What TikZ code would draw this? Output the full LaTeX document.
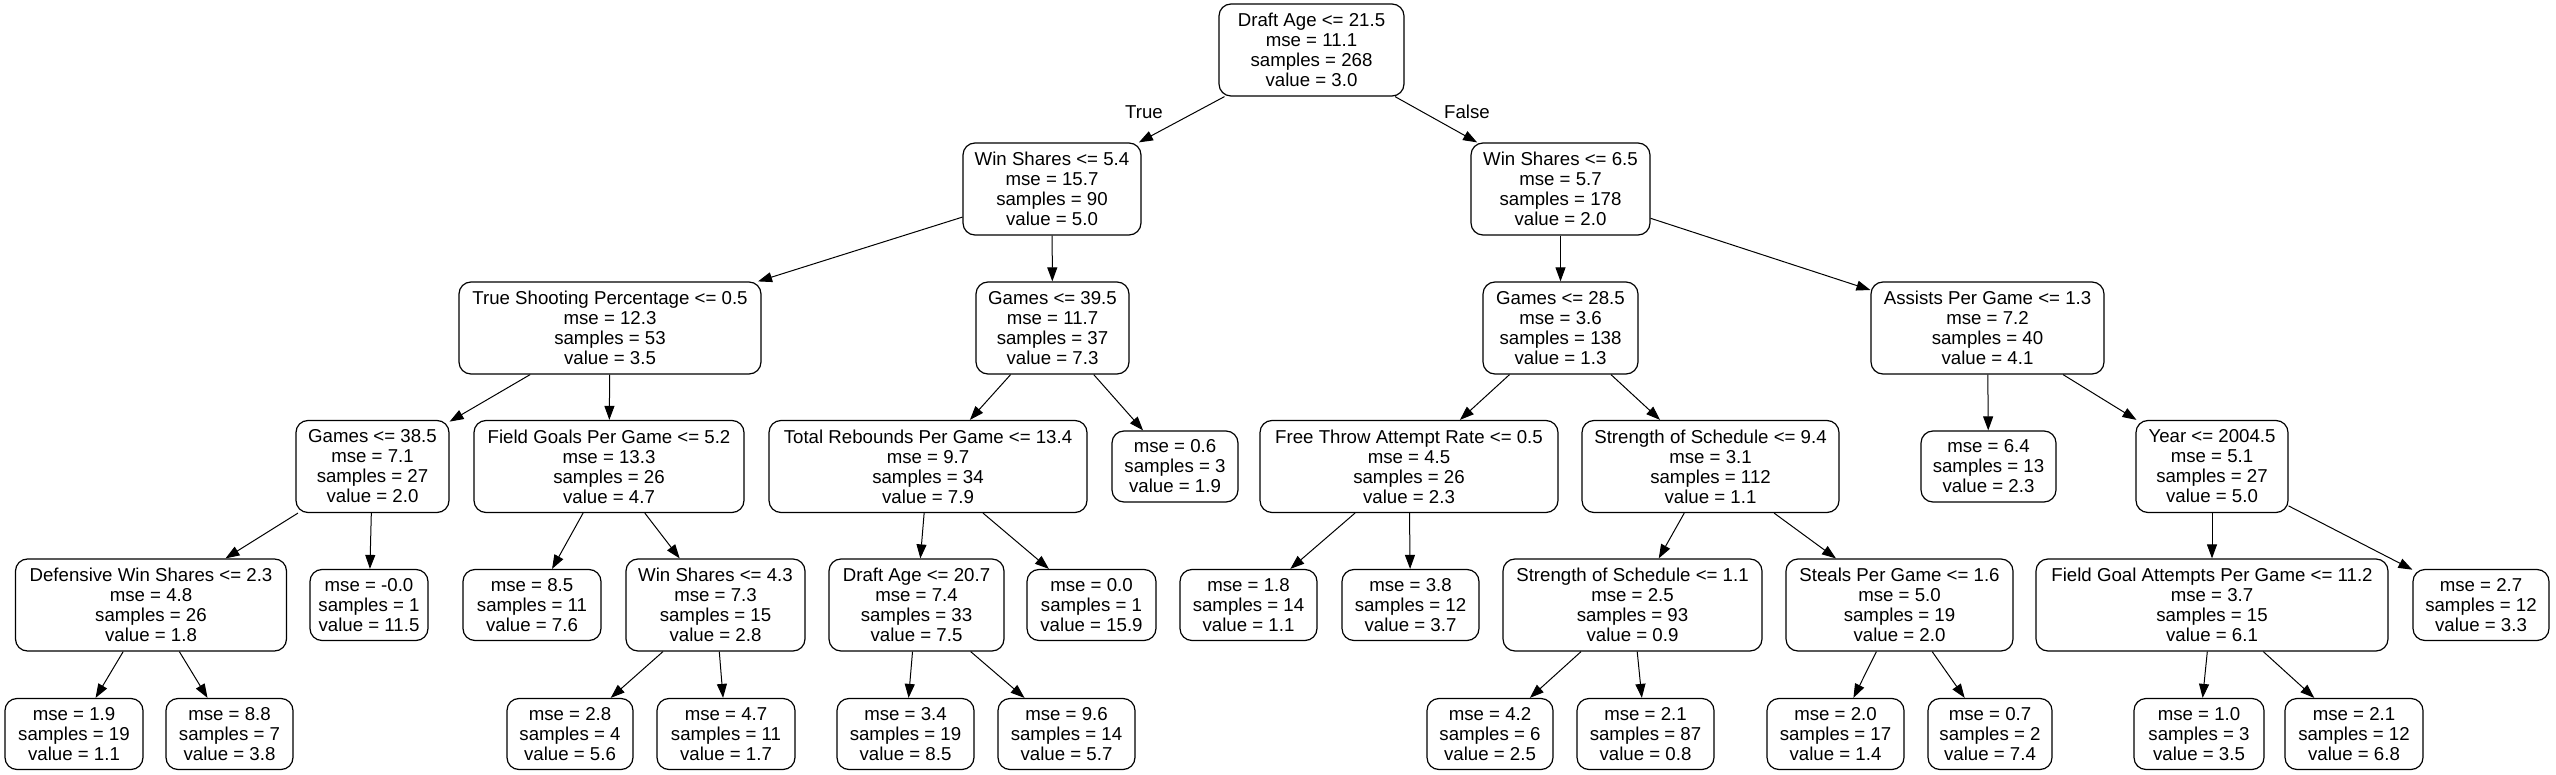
\documentclass[tikz,border=0pt]{standalone}
\usepackage{fontspec}
\setmainfont{Liberation Sans}
\usetikzlibrary{arrows.meta}
\begin{document}
\begin{tikzpicture}[x=0.5pt,y=-0.5pt,
  box/.style={draw=black, line width=0.6pt, rounded corners=6pt, align=center, inner sep=0pt,
    font=\fontsize{9.33}{10}\selectfont, fill=white},
  inn/.style={box, minimum height=46pt},
  leaf/.style={box, minimum height=35.5pt},
  edge/.style={draw=black, line width=0.5pt, -{Triangle[length=7pt,width=5pt]}},
  lbl/.style={font=\fontsize{9.33}{10}\selectfont, inner sep=0pt}]
\useasboundingbox (0,0) rectangle (2556,775);
% level 0
\node[inn, minimum width=92.5pt] (n0) at (1311.5,50) {Draft Age <= 21.5\\mse = 11.1\\samples = 268\\value = 3.0};
% level 1
\node[inn, minimum width=89pt] (n1) at (1052,189) {Win Shares <= 5.4\\mse = 15.7\\samples = 90\\value = 5.0};
\node[inn, minimum width=89.5pt] (n2) at (1560.5,189) {Win Shares <= 6.5\\mse = 5.7\\samples = 178\\value = 2.0};
% level 2
\node[inn, minimum width=151pt] (n3) at (610,328) {True Shooting Percentage <= 0.5\\mse = 12.3\\samples = 53\\value = 3.5};
\node[inn, minimum width=76.5pt] (n4) at (1052.5,328) {Games <= 39.5\\mse = 11.7\\samples = 37\\value = 7.3};
\node[inn, minimum width=77.5pt] (n5) at (1560.5,328) {Games <= 28.5\\mse = 3.6\\samples = 138\\value = 1.3};
\node[inn, minimum width=116.5pt] (n6) at (1987.5,328) {Assists Per Game <= 1.3\\mse = 7.2\\samples = 40\\value = 4.1};
% level 3
\node[inn, minimum width=76.5pt] (n7) at (372.5,466.5) {Games <= 38.5\\mse = 7.1\\samples = 27\\value = 2.0};
\node[inn, minimum width=135pt] (n8) at (609,466.5) {Field Goals Per Game <= 5.2\\mse = 13.3\\samples = 26\\value = 4.7};
\node[inn, minimum width=159pt] (n9) at (928,466.5) {Total Rebounds Per Game <= 13.4\\mse = 9.7\\samples = 34\\value = 7.9};
\node[leaf, minimum width=63pt] (n10) at (1175,466.5) {mse = 0.6\\samples = 3\\value = 1.9};
\node[inn, minimum width=149pt] (n11) at (1409,466.5) {Free Throw Attempt Rate <= 0.5\\mse = 4.5\\samples = 26\\value = 2.3};
\node[inn, minimum width=128.5pt] (n12) at (1710.5,466.5) {Strength of Schedule <= 9.4\\mse = 3.1\\samples = 112\\value = 1.1};
\node[leaf, minimum width=67.5pt] (n13) at (1988.5,466.5) {mse = 6.4\\samples = 13\\value = 2.3};
\node[inn, minimum width=76pt] (n14) at (2212,466.5) {Year <= 2004.5\\mse = 5.1\\samples = 27\\value = 5.0};
% level 4
\node[inn, minimum width=135.5pt] (n15) at (151,605) {Defensive Win Shares <= 2.3\\mse = 4.8\\samples = 26\\value = 1.8};
\node[leaf, minimum width=59pt] (n16) at (369,605) {mse = -0.0\\samples = 1\\value = 11.5};
\node[leaf, minimum width=69pt] (n17) at (532,605) {mse = 8.5\\samples = 11\\value = 7.6};
\node[inn, minimum width=89.5pt] (n18) at (715.5,605) {Win Shares <= 4.3\\mse = 7.3\\samples = 15\\value = 2.8};
\node[inn, minimum width=87.5pt] (n19) at (916.5,605) {Draft Age <= 20.7\\mse = 7.4\\samples = 33\\value = 7.5};
\node[leaf, minimum width=64.5pt] (n20) at (1091.5,605) {mse = 0.0\\samples = 1\\value = 15.9};
\node[leaf, minimum width=68.5pt] (n21) at (1248.5,605) {mse = 1.8\\samples = 14\\value = 1.1};
\node[leaf, minimum width=68.5pt] (n22) at (1410.5,605) {mse = 3.8\\samples = 12\\value = 3.7};
\node[inn, minimum width=129.5pt] (n23) at (1632.5,605) {Strength of Schedule <= 1.1\\mse = 2.5\\samples = 93\\value = 0.9};
\node[inn, minimum width=113.5pt] (n24) at (1899.5,605) {Steals Per Game <= 1.6\\mse = 5.0\\samples = 19\\value = 2.0};
\node[inn, minimum width=176pt] (n25) at (2212,605) {Field Goal Attempts Per Game <= 11.2\\mse = 3.7\\samples = 15\\value = 6.1};
\node[leaf, minimum width=68pt] (n26) at (2481,605) {mse = 2.7\\samples = 12\\value = 3.3};
% level 5
\node[leaf, minimum width=69pt] (n27) at (74,734) {mse = 1.9\\samples = 19\\value = 1.1};
\node[leaf, minimum width=63.5pt] (n28) at (229.5,734) {mse = 8.8\\samples = 7\\value = 3.8};
\node[leaf, minimum width=63pt] (n29) at (570,734) {mse = 2.8\\samples = 4\\value = 5.6};
\node[leaf, minimum width=69pt] (n30) at (726,734) {mse = 4.7\\samples = 11\\value = 1.7};
\node[leaf, minimum width=68.5pt] (n31) at (905.5,734) {mse = 3.4\\samples = 19\\value = 8.5};
\node[leaf, minimum width=68.5pt] (n32) at (1066.5,734) {mse = 9.6\\samples = 14\\value = 5.7};
\node[leaf, minimum width=63pt] (n33) at (1490,734) {mse = 4.2\\samples = 6\\value = 2.5};
\node[leaf, minimum width=68.5pt] (n34) at (1645.5,734) {mse = 2.1\\samples = 87\\value = 0.8};
\node[leaf, minimum width=68.5pt] (n35) at (1835.5,734) {mse = 2.0\\samples = 17\\value = 1.4};
\node[leaf, minimum width=62pt] (n36) at (1990,734) {mse = 0.7\\samples = 2\\value = 7.4};
\node[leaf, minimum width=65pt] (n37) at (2199,734) {mse = 1.0\\samples = 3\\value = 3.5};
\node[leaf, minimum width=69pt] (n38) at (2354,734) {mse = 2.1\\samples = 12\\value = 6.8};
% labels
\node[lbl] (tl) at (1144,112) {True};
\node[lbl] (fl) at (1467,112) {False};
% edges
\foreach \a/\b in {n0/n1,n0/n2,n1/n3,n1/n4,n2/n5,n2/n6,n3/n7,n3/n8,n4/n9,n4/n10,
  n5/n11,n5/n12,n6/n13,n6/n14,n7/n15,n7/n16,n8/n17,n8/n18,n9/n19,n9/n20,
  n11/n21,n11/n22,n12/n23,n12/n24,n14/n25,n14/n26,n15/n27,n15/n28,n18/n29,n18/n30,
  n19/n31,n19/n32,n23/n33,n23/n34,n24/n35,n24/n36,n25/n37,n25/n38}
  \draw[edge] (\a) -- (\b);
\end{tikzpicture}
\end{document}
